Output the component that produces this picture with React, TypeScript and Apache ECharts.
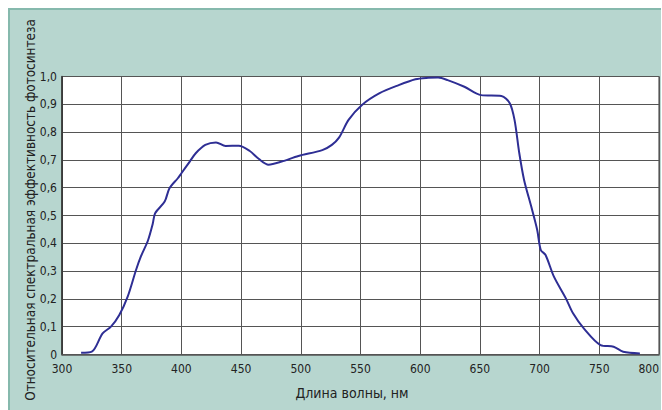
import React, { useEffect, useRef } from "react";
import * as echarts from "echarts";

const wavelengths = [316, 325, 334, 341, 348, 355, 362, 366, 372, 376, 378, 386, 390, 397, 400, 407, 412, 420, 429, 437, 448, 457, 465, 473, 484, 498, 518, 526, 532, 540, 551, 566, 582, 596, 605, 615, 623, 637, 651, 668, 675, 679, 683, 687, 693, 698, 701, 705, 712, 722, 728, 737, 751, 762, 770, 784];
const efficiency = [0.006, 0.01, 0.076, 0.1, 0.142, 0.208, 0.304, 0.352, 0.41, 0.47, 0.508, 0.55, 0.598, 0.634, 0.652, 0.694, 0.724, 0.754, 0.763, 0.75, 0.751, 0.733, 0.703, 0.683, 0.694, 0.714, 0.735, 0.754, 0.78, 0.844, 0.897, 0.94, 0.969, 0.99, 0.995, 0.996, 0.987, 0.963, 0.933, 0.93, 0.904, 0.844, 0.724, 0.628, 0.532, 0.448, 0.376, 0.358, 0.28, 0.202, 0.148, 0.094, 0.034, 0.028, 0.01, 0.004];
const xTicks = [300, 350, 400, 450, 500, 550, 600, 650, 700, 750, 800];
const yTicks = [0, 0.1, 0.2, 0.3, 0.4, 0.5, 0.6, 0.7, 0.8, 0.9, 1.0];
const xAxisTitle = "Длина волны, нм";
const yAxisTitle = "Относительная спектральная эффективность фотосинтеза";

const FONT = "'Liberation Sans Narrow', 'DejaVu Sans Condensed', 'Roboto', sans-serif";

export default function App() {
  const ref = useRef<HTMLDivElement>(null);
  useEffect(() => {
    if (!ref.current) return;
    const chart = echarts.init(ref.current, null, { renderer: "svg" });
    chart.setOption({
      animation: false,
      backgroundColor: "#ffffff",
      grid: { left: 62, right: 1, top: 76.5, bottom: 55.5, show: true, backgroundColor: "#ffffff", borderColor: "#333", borderWidth: 1 },
      xAxis: {
        type: "value",
        min: xTicks[0],
        max: xTicks[xTicks.length - 1],
        interval: 50,
        axisLine: { show: true, lineStyle: { color: "#555", width: 1.5 } },
        axisTick: { show: false },
        axisLabel: {
          color: "#222",
          fontSize: 12,
          fontFamily: FONT,
          margin: 8,
          alignMaxLabel: "right",
          formatter: (v: number) => String(v),
        },
        splitLine: { show: true, lineStyle: { color: "#555", width: 1 } },
      },
      yAxis: {
        type: "value",
        min: 0,
        max: 1,
        interval: 0.1,
        axisLine: { show: true, lineStyle: { color: "#333", width: 1.5 } },
        axisTick: { show: false },
        axisLabel: {
          color: "#222",
          fontSize: 12,
          fontFamily: FONT,
          margin: 5,
          formatter: (v: number) => {
            const t = yTicks.find((k) => Math.abs(k - v) < 1e-6);
            if (t === undefined) return "";
            return t === 0 ? "0" : t.toFixed(1).replace(".", ",");
          },
        },
        splitLine: { show: true, lineStyle: { color: "#555", width: 1 } },
      },
      series: [
        {
          type: "line",
          data: wavelengths.map((w, i) => [w, efficiency[i]]),
          smooth: 0.3,
          showSymbol: false,
          lineStyle: { color: "#2e2e94", width: 2 },
        },
      ],
      graphic: [
        { type: "rect", z: -10, shape: { x: 8, y: 8, width: 653, height: 402 }, style: { fill: "#b7d6cf" }, silent: true },
        { type: "rect", z: -9, shape: { x: 8, y: 8, width: 653, height: 2 }, style: { fill: "#86b9ad" }, silent: true },
        { type: "rect", z: -9, shape: { x: 8, y: 8, width: 2, height: 402 }, style: { fill: "#86b9ad" }, silent: true },
        {
          type: "text",
          x: 352,
          y: 393,
          style: { text: xAxisTitle, fontSize: 14, fontFamily: FONT, fill: "#222", align: "center", verticalAlign: "middle" },
        },
        {
          type: "text",
          x: 30,
          y: 210,
          rotation: Math.PI / 2,
          scaleX: 0.96,
          style: { text: yAxisTitle, fontSize: 14, fontFamily: FONT, fill: "#222", align: "center", verticalAlign: "middle" },
        },
      ],
    });
    return () => chart.dispose();
  }, []);
  return <div ref={ref} style={{ position: "fixed", left: 0, top: 0, width: 662, height: 410 }} />;
}
